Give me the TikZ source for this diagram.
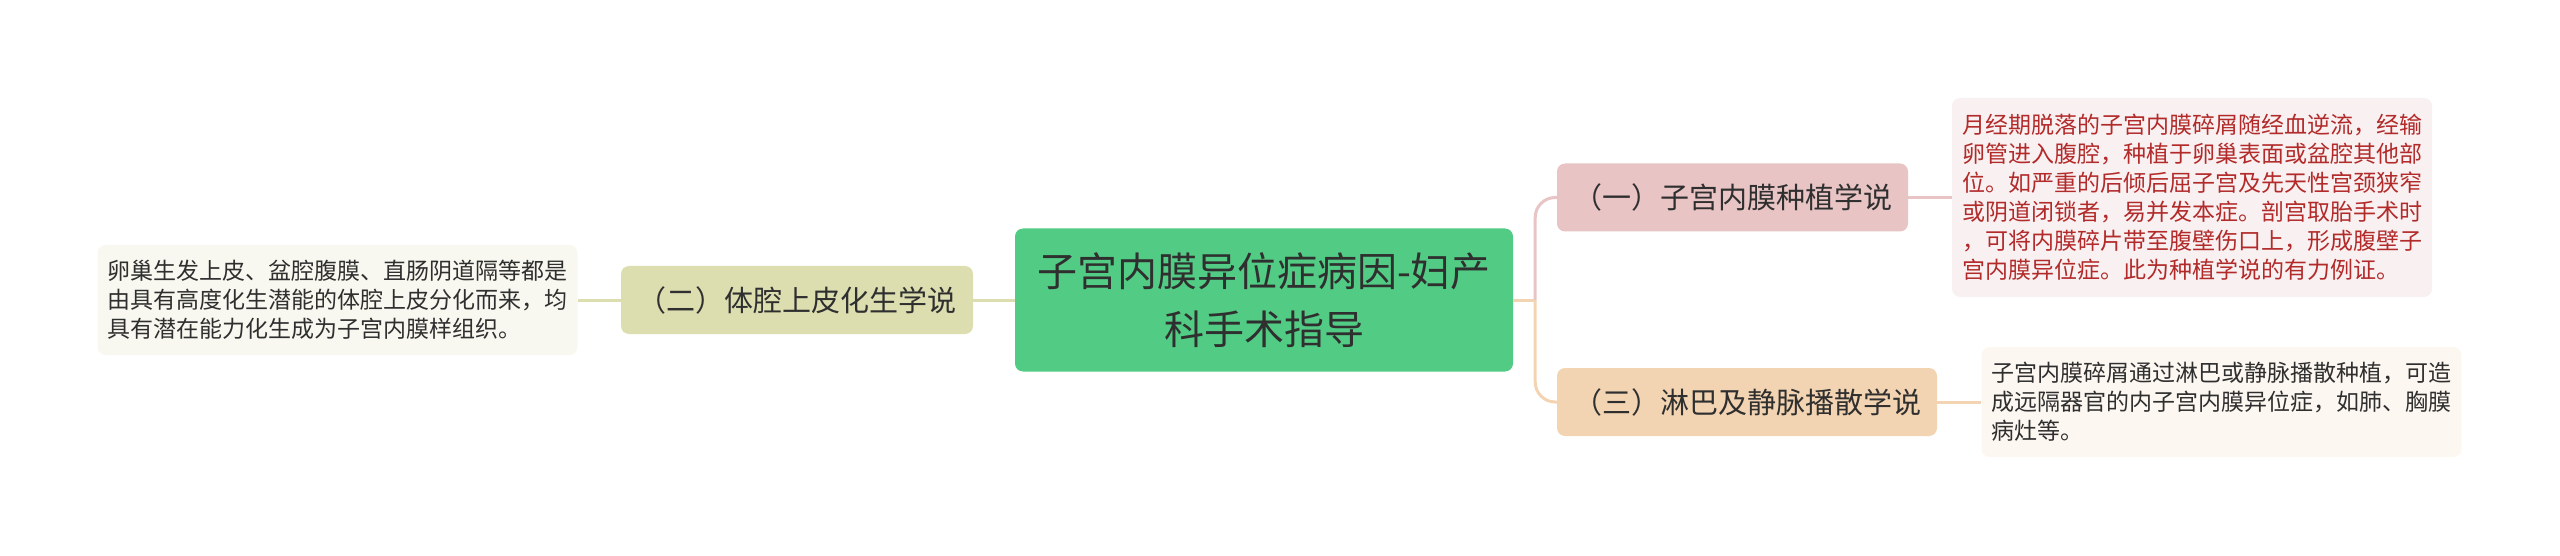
\documentclass[tikz,border=0pt]{standalone}
\usepackage{fontspec}
\setmainfont{Noto Sans CJK SC}
\definecolor{rootgreen}{HTML}{52CB84}
\definecolor{pinkfill}{HTML}{E8C4C4}
\definecolor{peachfill}{HTML}{F3D4B2}
\definecolor{olivefill}{HTML}{DCDEB0}
\definecolor{pinkleaf}{HTML}{F9F1F1}
\definecolor{peachleaf}{HTML}{FDF7F1}
\definecolor{oliveleaf}{HTML}{F8F8F0}
\definecolor{textdark}{HTML}{2F2F2F}
\definecolor{textred}{HTML}{B22A2A}
\tikzset{
  root/.style={fill=rootgreen, rounded corners=8pt, inner sep=0pt, align=center, text=textdark,
    minimum width=498pt, minimum height=143pt, font=\fontsize{40}{58}\selectfont},
  topic/.style={rounded corners=8pt, inner sep=0pt, align=center, text=textdark,
    minimum height=68pt, font=\fontsize{29}{35}\selectfont},
  leaf/.style={rounded corners=8pt, inner sep=0pt, align=left, text=textdark,
    minimum width=480pt, font=\fontsize{23}{29}\selectfont},
  link/.style={line width=3pt}
}
\begin{document}
\begin{tikzpicture}[x=1pt, y=-1pt]
		%%%%% START %%%%%
		\useasboundingbox (0, 0) rectangle (2560, 556);
		
		\node[root] (root) at (1264, 300) {子宫内膜异位症病因-妇产\\科手术指导};
		
		\node[topic, fill=pinkfill, minimum width=351pt] (implant) at (1732.5, 197.5) {（一）子宫内膜种植学说};
		\node[topic, fill=olivefill, minimum width=352pt] (coelom) at (797, 300) {（二）体腔上皮化生学说};
		\node[topic, fill=peachfill, minimum width=380pt] (spread) at (1747, 402) {（三）淋巴及静脉播散学说};
		
		\node[leaf, fill=pinkleaf, text=textred, minimum height=199pt] (implantleaf) at (2192, 197.5) {月经期脱落的子宫内膜碎屑随经血逆流，经输\\卵管进入腹腔，种植于卵巢表面或盆腔其他部\\位。如严重的后倾后屈子宫及先天性宫颈狭窄\\或阴道闭锁者，易并发本症。剖宫取胎手术时\\，可将内膜碎片带至腹壁伤口上，形成腹壁子\\宫内膜异位症。此为种植学说的有力例证。};
		\node[leaf, fill=oliveleaf, minimum height=110pt] (coelomleaf) at (337.5, 300) {卵巢生发上皮、盆腔腹膜、直肠阴道隔等都是\\由具有高度化生潜能的体腔上皮分化而来，均\\具有潜在能力化生成为子宫内膜样组织。};
		\node[leaf, fill=peachleaf, minimum height=110pt] (spreadleaf) at (2221.5, 402) {子宫内膜碎屑通过淋巴或静脉播散种植，可造\\成远隔器官的内子宫内膜异位症，如肺、胸膜\\病灶等。};
		
		\coordinate (fork) at ([xshift=22pt] root.east);
		\draw[link, peachfill] (root.east) -- (fork);
		\draw[link, pinkfill, rounded corners=20pt] (fork) |- (implant.west);
		\draw[link, peachfill, rounded corners=20pt] (fork) |- (spread.west);
		\draw[link, olivefill] (root.west) -- (coelom.east);
		
		\draw[link, pinkfill] (implant.east) -- (implantleaf.west);
		\draw[link, olivefill] (coelom.west) -- (coelomleaf.east);
		\draw[link, peachfill] (spread.east) -- (spreadleaf.west);
		%%%%% END %%%%%
\end{tikzpicture}
\end{document}
